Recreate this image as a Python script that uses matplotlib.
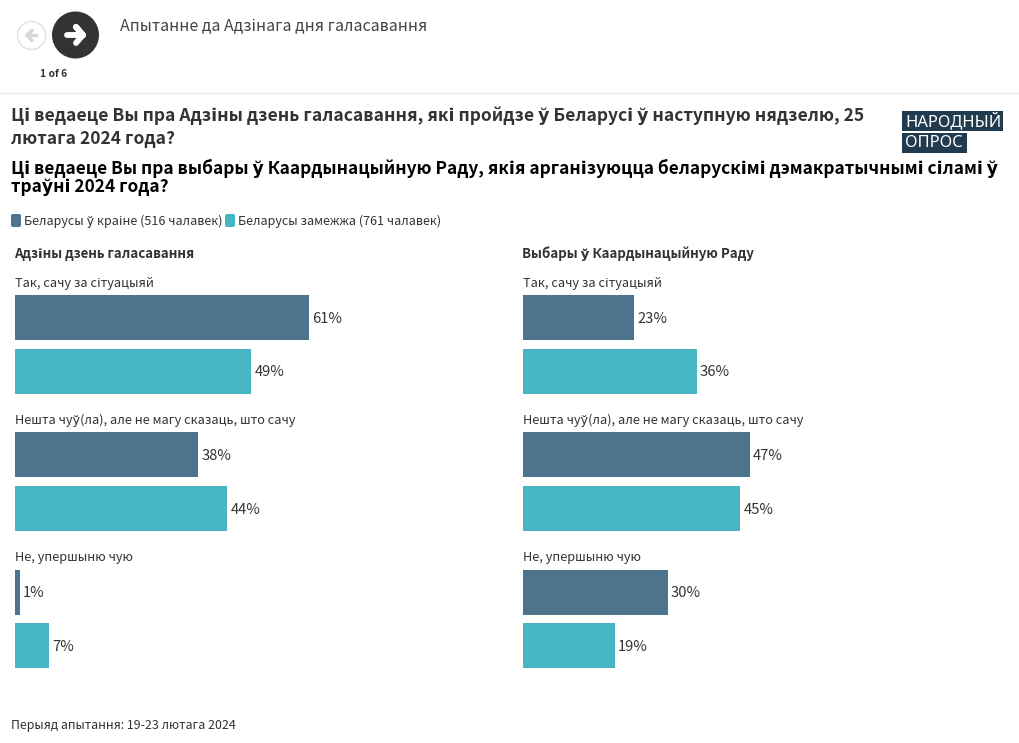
#!/usr/bin/env python
# plot.py

import matplotlib
matplotlib.use('Agg')
import matplotlib.pyplot as plt
import numpy as np

from matplotlib.patches import Circle, FancyBboxPatch, Rectangle

plt.rcParams['font.family'] = ['Noto Sans CJK SC', 'DejaVu Sans']

W, H = 1020, 743
DARK = '#333333'
COL_HOME = '#4d748d'
COL_ABROAD = '#46b6c4'
NAVY = '#1f3b4d'

categories = ['Так, сачу за сітуацыяй',
              'Нешта чуў(ла), але не магу сказаць, што сачу',
              'Не, упершыню чую']
panel_titles = ['Адзіны дзень галасавання', 'Выбары ў Каардынацыйную Раду']
series_names = ['Беларусы ў краіне (516 чалавек)', 'Беларусы замежжа (761 чалавек)']

election_day_home = [61, 38, 1]
election_day_abroad = [49, 44, 7]
council_home = [23, 47, 30]
council_abroad = [36, 45, 19]

fig = plt.figure(figsize=(W / 100, H / 100), dpi=100, facecolor='white')

# overlay in pixel coordinates for header, legend and labels
bg = fig.add_axes([0, 0, 1, 1])
bg.set_xlim(0, W)
bg.set_ylim(H, 0)
bg.axis('off')


def bars(left, home, abroad, title):
    # 100% is 482.5 px wide, rows are laid out in px below the top of the figure
    ax = fig.add_axes([left / W, 0, 482.5 / W, 1])
    ax.set_xlim(0, 100)
    ax.set_ylim(H, 0)
    ax.axis('off')
    ax.patch.set_alpha(0)
    rows = 317.5 + 137.3 * np.arange(3)
    ax.barh(rows, home, height=45, color=COL_HOME)
    ax.barh(rows + 53.5, abroad, height=45, color=COL_ABROAD)
    for y, v in zip(rows, home):
        ax.text(v + 0.65, y + 1.2, '%d%%' % v, va='center', fontsize=10.6, color=DARK)
    for y, v in zip(rows + 53.5, abroad):
        ax.text(v + 0.65, y + 1.2, '%d%%' % v, va='center', fontsize=10.6, color=DARK)
    for y, c in zip(rows, categories):
        bg.text(left, y - 34.1, c, va='center', fontsize=9.2, color=DARK)
    bg.text(left - 1, 254, title, va='center', fontsize=9.6, color=DARK, fontweight='bold')


bars(15, election_day_home, election_day_abroad, panel_titles[0])
bars(523, council_home, council_abroad, panel_titles[1])

# nav buttons
bg.add_patch(Circle((31.5, 35.5), 14, facecolor='white', edgecolor='#e0e0e0', lw=1))
bg.add_patch(Circle((75.5, 35), 23.5, facecolor=DARK, edgecolor='none'))
bg.plot([37, 27, 32, 27, 32], [35.5, 35.5, 30.5, 35.5, 40.5], color='#d8d8d8', lw=2.4,
        solid_capstyle='round', solid_joinstyle='round')
bg.plot([67, 83, 76, 83, 76], [35, 35, 27, 35, 43], color='white', lw=4.2,
        solid_capstyle='round', solid_joinstyle='round')
bg.text(54, 74, '1 of 6', ha='center', va='center', fontsize=7.4, color=DARK, fontweight='bold')
bg.text(120, 25.5, 'Апытанне да Адзінага дня галасавання', va='center', fontsize=11.5, color='#444444')
bg.plot([0, W], [92.5, 92.5], color='#ececec', lw=1)

# titles
bg.text(11, 116, 'Ці ведаеце Вы пра Адзіны дзень галасавання, які пройдзе ў Беларусі ў наступную нядзелю, 25',
        va='center', fontsize=12.56, color=DARK, fontweight='bold')
bg.text(11, 138.5, 'лютага 2024 года?', va='center', fontsize=12.56, color=DARK, fontweight='bold')
bg.text(11, 168, 'Ці ведаеце Вы пра выбары ў Каардынацыйную Раду, якія арганізуюцца беларускімі дэмакратычнымі сіламі ў',
        va='center', fontsize=12.45, color='black', fontweight='bold')
bg.text(11, 187.5, 'траўні 2024 года?', va='center', fontsize=12.45, color='black', fontweight='bold')

# logo
bg.add_patch(Rectangle((902, 111), 101, 20, facecolor=NAVY, edgecolor='none'))
bg.add_patch(Rectangle((902, 133), 65, 20, facecolor=NAVY, edgecolor='none'))
bg.text(905, 121, 'НАРОДНЫЙ', va='center', fontsize=11.9, color='white', family='Noto Sans')
bg.text(905, 143, 'ОПРОС', va='center', fontsize=11.9, color='white', family='Noto Sans')

# legend
for x, c in [(13, COL_HOME), (227, COL_ABROAD)]:
    bg.add_patch(FancyBboxPatch((x, 216), 6, 9, boxstyle='round,pad=2', facecolor=c, edgecolor='none'))
bg.text(24, 221, series_names[0], va='center', fontsize=9.05, color=DARK)
bg.text(238, 221, series_names[1], va='center', fontsize=9.05, color=DARK)

bg.text(11, 725, 'Перыяд апытання: 19-23 лютага 2024', va='center', fontsize=8.95, color=DARK)

fig.savefig('out.png', dpi=100, facecolor='white')
